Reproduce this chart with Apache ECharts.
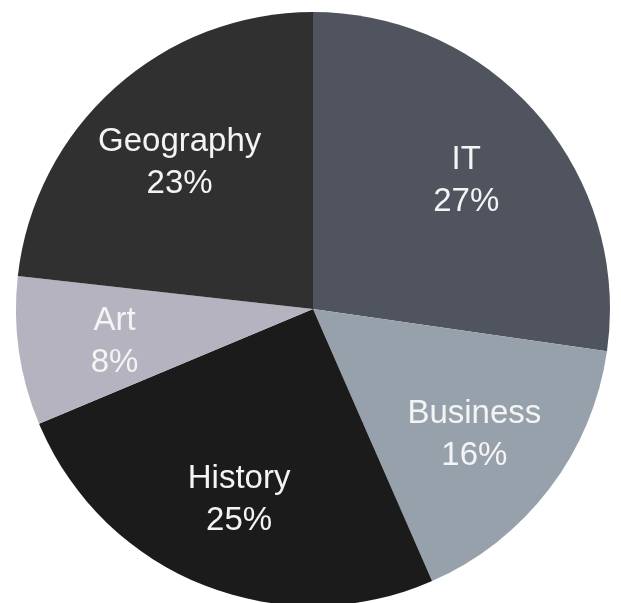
<!DOCTYPE html>
<html>
<head>
<meta charset="utf-8">
<script src="https://cdn.jsdelivr.net/npm/echarts@6/dist/echarts.min.js"></script>
<style>
  html, body { margin: 0; padding: 0; background: #fff; }
  #chart { width: 621px; height: 603px; }
</style>
</head>
<body>
<div id="chart"></div>
<script>
// subjects, clockwise from 12 o'clock
var subjects = ['IT', 'Business', 'History', 'Art', 'Geography'];
var shares = [27, 16, 25, 8, 23];
var sliceColors = ['#50545f', '#97a1ab', '#1b1b1b', '#b4b3bf', '#303030'];

var chart = echarts.init(document.getElementById('chart'));

var pieData = subjects.map(function (name, i) {
  return { name: name, value: shares[i], itemStyle: { color: sliceColors[i] } };
});
// same slices, transparent, only used to put the labels further out
var labelData = subjects.map(function (name, i) {
  return { name: name, value: shares[i] };
});

var option = {
  animation: false,
  backgroundColor: '#ffffff',
  series: [
    {
      type: 'pie',
      center: [313, 309],
      radius: [0, 297],
      startAngle: 90,
      clockwise: true,
      silent: true,
      label: { show: false },
      labelLine: { show: false },
      itemStyle: { borderWidth: 0 },
      data: pieData
    },
    {
      type: 'pie',
      center: [313, 309],
      radius: [100, 297],
      startAngle: 90,
      clockwise: true,
      silent: true,
      itemStyle: { color: 'rgba(0,0,0,0)', borderWidth: 0 },
      label: {
        show: true,
        position: 'inside',
        formatter: '{b}\n{c}%',
        color: '#f4f4f4',
        fontFamily: 'Liberation Sans, Arial, sans-serif',
        fontSize: 33,
        lineHeight: 42,
        offset: [1, 4]
      },
      labelLine: { show: false },
      data: labelData
    }
  ]
};
chart.setOption(option, true);
</script>
</body>
</html>
